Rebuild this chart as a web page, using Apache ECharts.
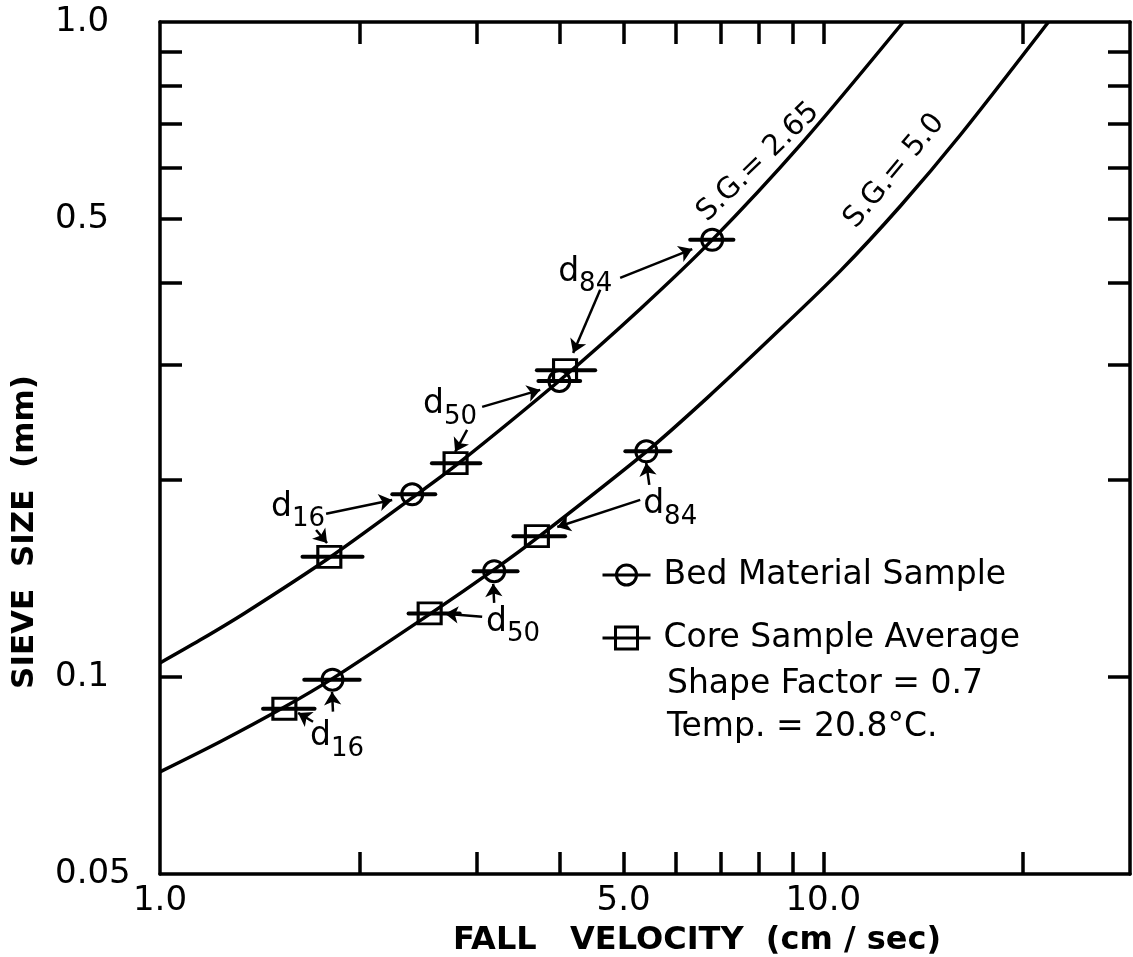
<!DOCTYPE html>
<html>
<head>
<meta charset="utf-8">
<script src="https://cdn.jsdelivr.net/npm/echarts@6/dist/echarts.min.js"></script>
<style>
  html, body { margin: 0; padding: 0; background: #fff; }
  #chart { width: 1133px; height: 957px; }
</style>
</head>
<body>
<div id="chart"></div>
<script>
const FONT = "'DejaVu Sans', sans-serif";

// Fall velocity (cm/sec) against sieve size (mm) along each specific-gravity curve
const curveSG265 = [[1.0, 0.1050], [1.149, 0.1138], [1.343, 0.1252], [1.798, 0.1519], [2.399, 0.1876], [2.786, 0.2099],
  [4.012, 0.2840], [5.297, 0.3646], [6.801, 0.4648], [9.234, 0.6491], [13.20, 1.0]];
const curveSG50 = [[1.0, 0.0716], [1.232, 0.0796], [1.533, 0.0897], [1.817, 0.0993], [2.554, 0.1248], [3.201, 0.1462],
  [3.704, 0.1630], [5.408, 0.2206], [6.683, 0.2667], [8.405, 0.3317], [10.61, 0.4168], [13.07, 0.5236],
  [16.09, 0.6721], [21.85, 1.0]];

// Bed material sample: d16, d50, d84 on S.G. 2.65, then on S.G. 5.0
const bedVelocity = [2.40, 4.00, 6.80, 1.82, 3.19, 5.41];
const bedSize = [0.190, 0.283, 0.465, 0.099, 0.145, 0.221];
const bedVelocityLow = [2.24, 3.72, 6.30, 1.65, 2.97, 5.03];
const bedVelocityHigh = [2.60, 4.30, 7.32, 2.00, 3.46, 5.88];

// Core sample average: d16, d50, d84 on S.G. 2.65, then on S.G. 5.0
const coreVelocity = [1.80, 2.79, 4.08, 1.54, 2.55, 3.70];
const coreSize = [0.1525, 0.212, 0.294, 0.0894, 0.125, 0.164];
const coreVelocityLow = [1.64, 2.57, 3.70, 1.43, 2.37, 3.41];
const coreVelocityHigh = [2.02, 3.04, 4.53, 1.71, 2.83, 4.08];

// Percentile call-outs: subscript, text position, and two arrows (from -> to)
const calloutSub = ['84', '50', '16', '84', '50', '16'];
const calloutAt = [[4.375, 0.4152], [2.737, 0.2602], [1.615, 0.1817], [5.877, 0.1831], [3.407, 0.1213], [1.849, 0.0810]];
const arrowFrom = [[4.94, 0.4066], [4.61, 0.390], [3.06, 0.2584], [2.904, 0.2383], [1.780, 0.1774], [1.719, 0.1676],
  [5.297, 0.1863], [5.466, 0.1964], [3.06, 0.1235], [3.19, 0.1297], [1.701, 0.0854], [1.823, 0.0885]];
const arrowTo = [[6.345, 0.450], [4.196, 0.3124], [3.743, 0.2743], [2.786, 0.2206], [2.239, 0.1863], [1.786, 0.1601],
  [3.971, 0.1694], [5.408, 0.2122], [2.691, 0.1248], [3.179, 0.1387], [1.615, 0.0881], [1.817, 0.0948]];

// Curve names written along each curve
const curveNames = ['S.G.= 2.65', 'S.G.= 5.0'];
const curveNameAt = [[7.98, 0.611], [12.80, 0.592]];
const curveNameAngle = [44, 50];

// Axis ticks and labels
const xTicks = [2, 3, 4, 5, 6, 7, 8, 9, 10, 20];
const xLabels = [1, 5, 10];
const yTicks = [0.1, 0.2, 0.3, 0.4, 0.5, 0.6, 0.7, 0.8, 0.9];
const yLabels = [0.05, 0.1, 0.5, 1.0];

const notes = ['Shape Factor = 0.7', 'Temp. = 20.8°C.'];

const zip = (xs, ys) => xs.map((x, i) => [x, ys[i]]);

const tickStyle = { show: true, inside: true, length: 22, lineStyle: { color: '#000', width: 3.5 } };
const axisLineStyle = { show: true, onZero: false, lineStyle: { color: '#000', width: 3.5 } };

function xAxisCfg(position, showLabels) {
  return {
    type: 'log', logBase: 10, min: 1, max: 29, position: position,
    axisLine: axisLineStyle,
    axisTick: Object.assign({ customValues: xTicks }, tickStyle),
    splitLine: { show: false },
    minorTick: { show: false },
    axisLabel: {
      show: showLabels, customValues: xLabels, margin: 10,
      fontFamily: FONT, fontSize: 34, color: '#000',
      formatter: v => Number(v).toFixed(1)
    }
  };
}
function yAxisCfg(position, showLabels) {
  return {
    type: 'log', logBase: 10, min: 0.05, max: 1.0, position: position,
    axisLine: axisLineStyle,
    axisTick: Object.assign({ customValues: yTicks }, tickStyle),
    splitLine: { show: false },
    minorTick: { show: false },
    axisLabel: {
      show: showLabels, customValues: yLabels, margin: 105, align: 'left',
      fontFamily: FONT, fontSize: 34, color: '#000',
      formatter: v => (v < 0.1 ? String(Number(v)) : Number(v).toFixed(1))
    }
  };
}

const circleIcon = 'path://M0,11L48,11M34,11A10,10,0,1,1,14,11A10,10,0,1,1,34,11';
const squareIcon = 'path://M0,11L48,11M13,0L35,0L35,22L13,22Z';
const markStyle = { color: 'rgba(0,0,0,0)', borderColor: '#000', borderWidth: 3, opacity: 1 };

function rangeBar(params, api) {
  const a = api.coord([api.value(0), api.value(2)]);
  const b = api.coord([api.value(1), api.value(2)]);
  return {
    type: 'line',
    shape: { x1: a[0], y1: a[1], x2: b[0], y2: b[1] },
    style: { stroke: '#000', lineWidth: 4, lineCap: 'round' }
  };
}

const chart = echarts.init(document.getElementById('chart'), null, { renderer: 'canvas' });

chart.setOption({
  animation: false,
  backgroundColor: '#fff',
  grid: { left: 160, right: 3, top: 22, bottom: 83, containLabel: false },
  xAxis: [xAxisCfg('bottom', true), xAxisCfg('top', false)],
  yAxis: [yAxisCfg('left', true), yAxisCfg('right', false)],
  legend: {
    left: 596, top: 552, orient: 'vertical',
    itemWidth: 48, itemHeight: 22, itemGap: 27,
    selectedMode: false,
    textStyle: { fontFamily: FONT, fontSize: 33, color: '#000', padding: [0, 0, 0, 8], lineHeight: 36 },
    data: [
      { name: 'Bed Material Sample', icon: circleIcon, itemStyle: markStyle },
      { name: 'Core Sample Average', icon: squareIcon, itemStyle: markStyle }
    ]
  },
  series: [
    {
      name: 'S.G. 2.65', type: 'line', data: curveSG265, smooth: 0.3,
      showSymbol: false, silent: true, clip: true,
      lineStyle: { color: '#000', width: 3.5 }, z: 2
    },
    {
      name: 'S.G. 5.0', type: 'line', data: curveSG50, smooth: 0.3,
      showSymbol: false, silent: true, clip: true,
      lineStyle: { color: '#000', width: 3.5 }, z: 2
    },
    {
      name: 'bed range', type: 'custom', renderItem: rangeBar, silent: true, z: 3,
      data: bedVelocity.map((v, i) => [bedVelocityLow[i], bedVelocityHigh[i], bedSize[i]]),
      encode: { x: [0, 1], y: 2 }
    },
    {
      name: 'core range', type: 'custom', renderItem: rangeBar, silent: true, z: 3,
      data: coreVelocity.map((v, i) => [coreVelocityLow[i], coreVelocityHigh[i], coreSize[i]]),
      encode: { x: [0, 1], y: 2 }
    },
    {
      name: 'Bed Material Sample', type: 'scatter', data: zip(bedVelocity, bedSize),
      symbol: 'circle', symbolSize: 21, silent: true, z: 4,
      itemStyle: markStyle
    },
    {
      name: 'Core Sample Average', type: 'scatter', data: zip(coreVelocity, coreSize),
      symbol: 'rect', symbolSize: [23, 21], silent: true, z: 4,
      itemStyle: markStyle
    },
    {
      name: 'arrows', type: 'lines', coordinateSystem: 'cartesian2d', silent: true, z: 5,
      symbol: ['none', 'arrow'], symbolSize: [9, 13],
      lineStyle: { color: '#000', width: 2.5, opacity: 1 },
      data: arrowFrom.map((f, i) => ({ coords: [f, arrowTo[i]] }))
    },
    {
      name: 'callouts', type: 'scatter', silent: true, z: 6,
      symbol: 'circle', symbolSize: 1, itemStyle: { color: 'rgba(0,0,0,0)', opacity: 1 },
      data: calloutAt.map((p, i) => ({ value: p, sub: calloutSub[i] })),
      label: {
        show: true, position: 'inside', color: '#000', opacity: 1,
        formatter: p => '{d|d}{s|' + p.data.sub + '}',
        rich: {
          d: { fontFamily: FONT, fontSize: 33, color: '#000', lineHeight: 50 },
          s: { fontFamily: FONT, fontSize: 26, color: '#000', lineHeight: 22, verticalAlign: 'bottom' }
        }
      }
    },
    {
      name: 'curve names', type: 'scatter', silent: true, z: 6,
      symbol: 'circle', symbolSize: 1, itemStyle: { color: 'rgba(0,0,0,0)', opacity: 1 },
      data: curveNameAt.map((p, i) => ({
        value: p,
        label: { rotate: curveNameAngle[i], formatter: curveNames[i] }
      })),
      label: { show: true, position: 'inside', color: '#000', opacity: 1, fontFamily: FONT, fontSize: 29 }
    }
  ],
  graphic: [
    {
      type: 'text', left: 667, top: 668, silent: true,
      style: { text: notes[0], fontFamily: FONT, fontSize: 33, fill: '#000' }
    },
    {
      type: 'text', left: 667, top: 711, silent: true,
      style: { text: notes[1], fontFamily: FONT, fontSize: 33, fill: '#000' }
    },
    {
      type: 'text', x: 697, y: 941, silent: true,
      style: { text: 'FALL   VELOCITY  (cm / sec)', fontFamily: FONT, fontWeight: 'bold', fontSize: 32,
        fill: '#000', align: 'center', verticalAlign: 'middle' }
    },
    {
      type: 'text', x: 25, y: 532, rotation: Math.PI / 2, silent: true,
      style: { text: 'SIEVE  SIZE  (mm)', fontFamily: FONT, fontWeight: 'bold', fontSize: 31,
        fill: '#000', align: 'center', verticalAlign: 'middle' }
    }
  ]
});
</script>
</body>
</html>
